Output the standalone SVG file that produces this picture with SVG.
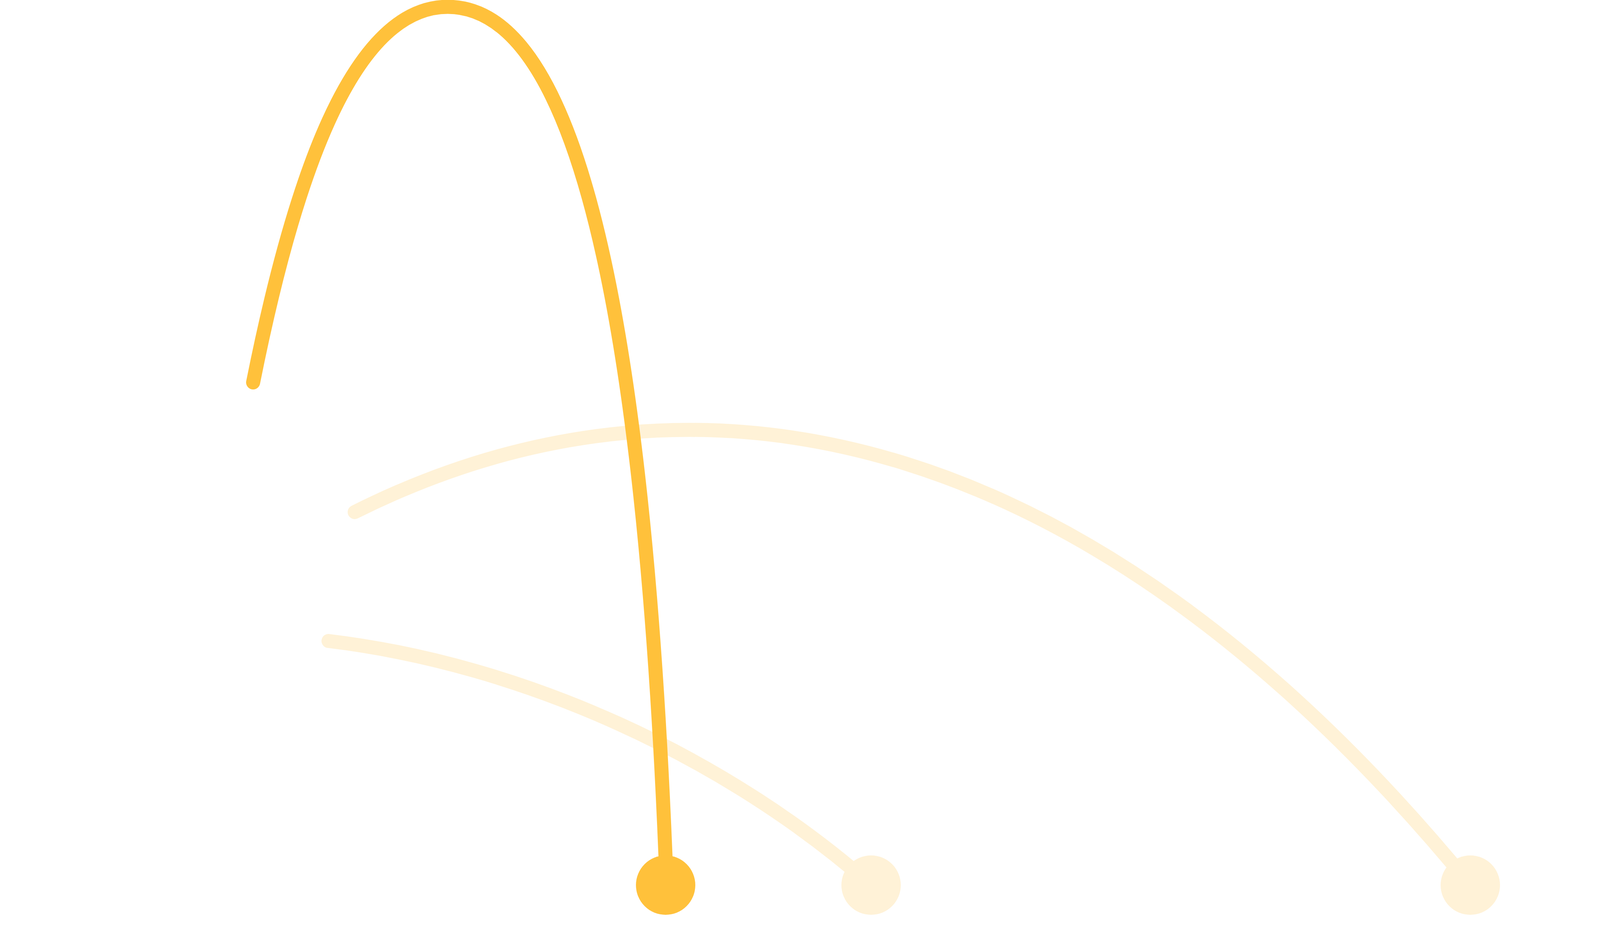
<svg xmlns="http://www.w3.org/2000/svg" width="4168" height="2427" viewBox="0 0 4168 2427">
  <style>
    .link { fill: none; stroke-width: 36; stroke-linecap: round; }
    .light { stroke: #FFF2D7; }
    .strong { stroke: #FFC13B; }
    .node-light { fill: #FFF2D7; }
    .node-strong { fill: #FFC13B; }
  </style>
  <rect x="0" y="0" width="4168" height="2427" fill="#FFFFFF"/>
  <g id="connectors">
    <path class="link light" d="M908,1311 C1808,861 2818,1112 3764,2266"/>
    <path class="link light" d="M841,1641 C1341,1701 1855,1936 2230,2266"/>
    <path class="link strong" d="M648,979 C748,479 896,17.5 1146,17.5 C1406,17.5 1635,492 1704,2200"/>
  </g>
  <g id="node-1">
    <circle class="node-strong" cx="1704" cy="2266" r="76"/>
  </g>
  <g id="node-2">
    <circle class="node-light" cx="2230" cy="2266" r="76"/>
  </g>
  <g id="node-3">
    <circle class="node-light" cx="3764" cy="2266" r="76"/>
  </g>
</svg>
